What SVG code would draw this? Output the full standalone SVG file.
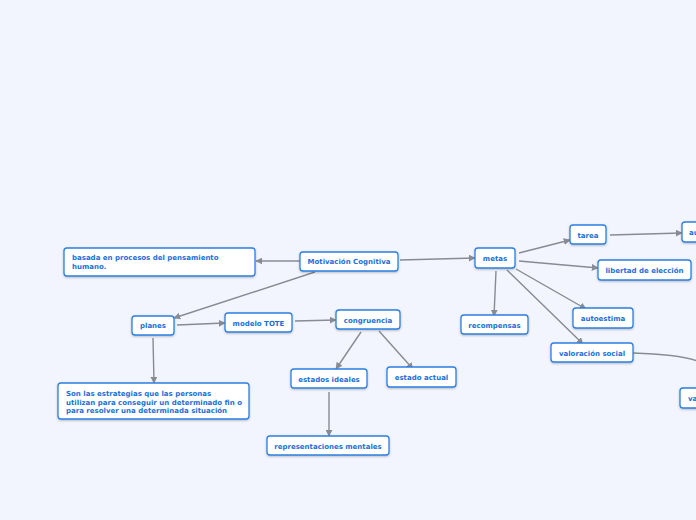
<svg xmlns="http://www.w3.org/2000/svg" width="696" height="520" viewBox="0 0 696 520">
<defs>
<marker id="ah" viewBox="0 0 10 10" refX="9" refY="5" markerWidth="7" markerHeight="7" markerUnits="userSpaceOnUse" orient="auto"><path d="M0,0 L10,5 L0,10 z" fill="#878b93"/></marker>
<filter id="sh" x="-10%" y="-20%" width="120%" height="150%"><feDropShadow dx="0" dy="1" stdDeviation="0.8" flood-color="#000" flood-opacity="0.25"/></filter>
</defs>
<style>
.n rect{fill:#fff;stroke:#2d7fe0;stroke-width:1.3;filter:url(#sh)}
.n text{font-family:"DejaVu Sans",Verdana,sans-serif;font-weight:bold;font-size:7px;fill:#1b6fd8}
.c path{fill:none;stroke:#878b93;stroke-width:1.4}
.c .a{marker-end:url(#ah)}
</style>
<rect width="696" height="520" fill="#f2f5fd"/>
<g class="c">
<path class="a" d="M300,261 L256,261"/>
<path class="a" d="M400,260 L475,258"/>
<path class="a" d="M315,272 L174,318"/>
<path class="a" d="M177,325 L225,323"/>
<path class="a" d="M295,321 L336,320"/>
<path class="a" d="M361,332 L336,369"/>
<path class="a" d="M379,331 L413,369"/>
<path class="a" d="M329,392 L329,436"/>
<path class="a" d="M153,338 L154,383"/>
<path class="a" d="M519,253 L570,240"/>
<path class="a" d="M610,235 L682,233"/>
<path class="a" d="M519,261 L598,268"/>
<path class="a" d="M516,269 L586,309"/>
<path class="a" d="M507,270 L583,344"/>
<path class="a" d="M496,271 L494,316"/>
<path d="M633,353 C665,354 688,357 700,362"/>
</g>
<g class="n" id="motivacion"><rect x="300" y="252" width="98" height="19" rx="3"/><text x="349" y="264" text-anchor="middle">Motivación Cognitiva</text></g>
<g class="n" id="basada"><rect x="64" y="248" width="191" height="28" rx="3"/><text x="72" y="260">basada en procesos del pensamiento</text><text x="72" y="269">humano.</text></g>
<g class="n" id="planes"><rect x="132" y="316" width="42" height="19" rx="3"/><text x="153" y="328" text-anchor="middle">planes</text></g>
<g class="n" id="tote"><rect x="225" y="313" width="67" height="19" rx="3"/><text x="258.5" y="325.5" text-anchor="middle">modelo TOTE</text></g>
<g class="n" id="congruencia"><rect x="336" y="310" width="64" height="19" rx="3"/><text x="368" y="322.5" text-anchor="middle">congruencia</text></g>
<g class="n" id="ideales"><rect x="291" y="369" width="76" height="19" rx="3"/><text x="329" y="381.5" text-anchor="middle">estados ideales</text></g>
<g class="n" id="actual"><rect x="387" y="367" width="69" height="20" rx="3"/><text x="421.5" y="380" text-anchor="middle">estado actual</text></g>
<g class="n" id="representaciones"><rect x="267" y="436" width="122" height="19" rx="3"/><text x="328" y="448.5" text-anchor="middle">representaciones mentales</text></g>
<g class="n" id="estrategias"><rect x="58" y="383" width="191" height="36" rx="3"/><text x="66" y="396">Son las estrategias que las personas</text><text x="66" y="404.5">utilizan para conseguir un determinado fin o</text><text x="66" y="413">para resolver una determinada situación</text></g>
<g class="n" id="metas"><rect x="475" y="248" width="40" height="20" rx="3"/><text x="495" y="261" text-anchor="middle">metas</text></g>
<g class="n" id="tarea"><rect x="570" y="225" width="36" height="19" rx="3"/><text x="588" y="237.5" text-anchor="middle">tarea</text></g>
<g class="n" id="au"><rect x="682" y="222" width="30" height="20" rx="3"/><text x="689" y="235">au</text></g>
<g class="n" id="libertad"><rect x="598" y="260" width="93" height="20" rx="3"/><text x="644.5" y="273" text-anchor="middle">libertad de elección</text></g>
<g class="n" id="autoestima"><rect x="573" y="308" width="60" height="20" rx="3"/><text x="603" y="321" text-anchor="middle">autoestima</text></g>
<g class="n" id="recompensas"><rect x="461" y="315" width="67" height="19" rx="3"/><text x="494.5" y="327.5" text-anchor="middle">recompensas</text></g>
<g class="n" id="valoracion"><rect x="551" y="343" width="82" height="19" rx="3"/><text x="592" y="355.5" text-anchor="middle">valoración social</text></g>
<g class="n" id="va"><rect x="680" y="388" width="30" height="20" rx="3"/><text x="688" y="401">va</text></g>
</svg>
